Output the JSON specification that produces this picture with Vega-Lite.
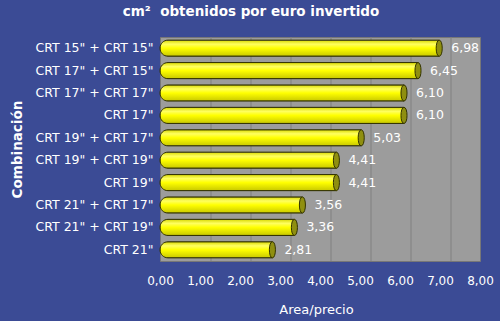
{
  "$schema": "https://vega.github.io/schema/vega-lite/v6.json",
  "autosize": "none",
  "width": 320,
  "height": 224,
  "padding": {"left": 160, "top": 37, "right": 20, "bottom": 60},
  "background": "#3b4b95",
  "config": {
    "locale": {"number": {"decimal": ",", "thousands": ".", "grouping": [3], "currency": ["", " €"]}},
    "font": "DejaVu Sans",
    "view": {"fill": "#9c9c9c", "stroke": "#777777", "strokeWidth": 1},
    "axisX": {
      "format": ".2f", "values": [0, 1, 2, 3, 4, 5, 6, 7, 8], "labelOverlap": false, "labelFlush": false,
      "titleColor": "white", "titleFontSize": 13, "titleFontWeight": "normal",
      "titleX": 156, "titleY": 48, "titleBaseline": "middle",
      "labelColor": "white", "labelFontSize": 12, "labelPadding": 14, "ticks": false, "domain": false,
      "grid": false
    }
  },
  "title": {
    "text": "cm²\u00a0\u00a0obtenidos por euro invertido",
    "color": "white",
    "fontSize": 13.5,
    "fontWeight": "bold",
    "font": "DejaVu Sans",
    "anchor": "middle",
    "dx": -69,
    "offset": 18
  },
  "datasets": {
    "bars": [
      {"combo": "CRT 15\" + CRT 15\"", "v": 6.98},
      {"combo": "CRT 17\" + CRT 15\"", "v": 6.45},
      {"combo": "CRT 17\" + CRT 17\"", "v": 6.10},
      {"combo": "CRT 17\"", "v": 6.10},
      {"combo": "CRT 19\" + CRT 17\"", "v": 5.03},
      {"combo": "CRT 19\" + CRT 19\"", "v": 4.41},
      {"combo": "CRT 19\"", "v": 4.41},
      {"combo": "CRT 21\" + CRT 17\"", "v": 3.56},
      {"combo": "CRT 21\" + CRT 19\"", "v": 3.36},
      {"combo": "CRT 21\"", "v": 2.81}
    ],
    "grid": [{"g": 1}, {"g": 2}, {"g": 3}, {"g": 4}, {"g": 5}, {"g": 6}, {"g": 7}]
  },
  "layer": [
    {
      "data": {"name": "grid"},
      "mark": {"type": "rule", "color": "#808080", "strokeWidth": 1, "xOffset": 11},
      "encoding": {
        "x": {
          "field": "g", "type": "quantitative",
          "scale": {"domain": [0, 8], "nice": false},
          "title": "Area/precio"
        }
      }
    },
    {
      "data": {"name": "bars"},
      "encoding": {
        "y": {
          "field": "combo", "type": "nominal", "sort": null,
          "scale": {"paddingInner": 0.28, "paddingOuter": 0.14},
          "axis": {
            "title": "Combinación", "titleColor": "white", "titleFontSize": 13.5, "titleFontWeight": "bold",
            "titleAngle": -90, "titleX": -143, "titleY": 112, "titleAlign": "center", "titleBaseline": "middle",
            "labelColor": "white", "labelFontSize": 12.5, "labelPadding": 7, "ticks": false, "domain": false, "grid": false
          }
        },
        "x": {"field": "v", "type": "quantitative", "title": "Area/precio"}
      },
      "layer": [
        {
          "mark": {"type": "bar", "cornerRadiusTopLeft": 8, "cornerRadiusBottomLeft": 8, "stroke": "#333300", "strokeWidth": 1,
            "fill": {"gradient": "linear", "x1": 0, "y1": 0, "x2": 0, "y2": 1,
              "stops": [{"offset": 0, "color": "#d8d800"}, {"offset": 0.25, "color": "#ffff60"}, {"offset": 0.5, "color": "#ffff00"}, {"offset": 1, "color": "#c8c800"}]}}
        },
        {
          "mark": {"type": "point", "shape": "M0,-1C0.5,-1 0.5,1 0,1C-0.5,1 -0.5,-1 0,-1Z", "size": 260, "filled": true, "fill": "#8f8f10", "stroke": "#333300", "strokeWidth": 1, "opacity": 1}
        },
        {
          "mark": {"type": "text", "align": "left", "baseline": "middle", "dx": 12, "color": "white", "fontSize": 12.5},
          "encoding": {"text": {"field": "v", "type": "quantitative", "format": ".2f"}}
        }
      ]
    }
  ]
}
